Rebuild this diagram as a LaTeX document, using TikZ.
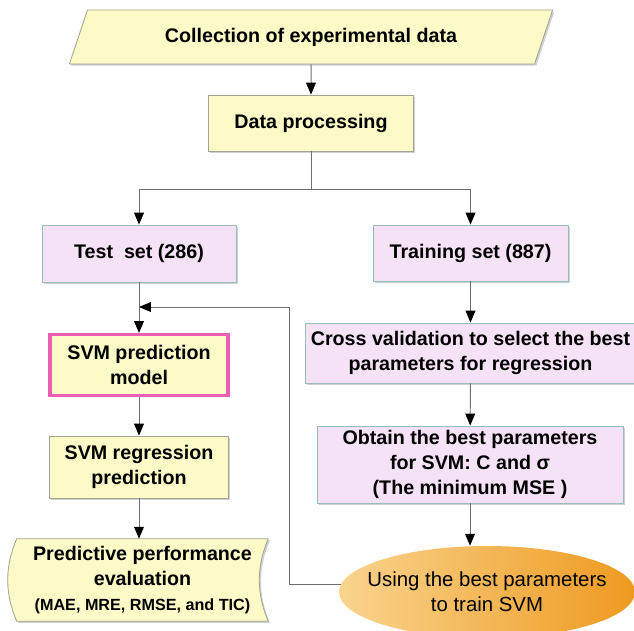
\documentclass[tikz,border=0pt]{standalone}
\usepackage{fontspec}
\setmainfont{Liberation Sans}
\usetikzlibrary{positioning,shapes.geometric,arrows.meta,shadows,backgrounds}
\definecolor{BoxYellow}{HTML}{FCFAC6}
\definecolor{BoxPink}{HTML}{F6E2F6}
\definecolor{EdgeGray}{HTML}{A3A391}
\definecolor{EdgeTeal}{HTML}{97BFBA}
\definecolor{ModelRim}{HTML}{EC5DB4}
\definecolor{LineGray}{HTML}{6E6E6E}
\definecolor{FitLight}{HTML}{F9D48E}
\definecolor{FitDark}{HTML}{EE9A20}
\tikzset{
  boxfont/.style={font=\fontsize{14}{17.5}\selectfont\bfseries},
  softshadow/.style={drop shadow={shadow xshift=1.2pt,shadow yshift=-1.2pt,
                                  fill=black,opacity=0.18}},
  yellowbox/.style={draw=EdgeGray,fill=BoxYellow,line width=0.6pt,softshadow,
                    boxfont,align=center,inner sep=2pt},
  pinkbox/.style={draw=EdgeTeal,fill=BoxPink,line width=0.6pt,softshadow,
                  boxfont,align=center,inner sep=2pt},
  link/.style={LineGray,line width=0.7pt},
  arr/.style={link,-{Triangle[length=8.5pt,width=7pt,color=black]}},
}

\begin{document}
\begin{tikzpicture}[x=1cm,y=1cm]
        \useasboundingbox (0,0) rectangle (15.85,-15.775);
        \node[yellowbox,trapezium,trapezium left angle=63.4,
              trapezium right angle=116.6,trapezium stretches=true,
              minimum width=12.1cm,minimum height=1.35cm]
              (collect) at (7.775,-0.925) {Collection of experimental data};
        \node[yellowbox,minimum width=5.125cm,minimum height=1.4cm]
              (proc) at (7.775,-3.075) {Data processing};
        \node[pinkbox,minimum width=4.85cm,minimum height=1.425cm]
              (testset) at (3.475,-6.3375) {Test~ set (286)};
        \node[pinkbox,minimum width=4.875cm,minimum height=1.4cm]
              (trainset) at (11.7625,-6.325) {Training set (887)};
        \node[yellowbox,draw=ModelRim,line width=2.2pt,
              minimum width=4.45cm,minimum height=1.525cm]
              (model) at (3.475,-9.125) {SVM prediction\\model};
        \node[yellowbox,minimum width=4.475cm,minimum height=1.55cm]
              (regr) at (3.475,-11.675) {SVM regression\\prediction};
        \node[boxfont,align=center,minimum width=6.275cm,minimum height=2.05cm]
              (evalp) at (3.5625,-14.5) {Predictive performance\\evaluation\\
              {\fontsize{11.5}{14}\selectfont (MAE, MRE, RMSE, and TIC)}};
        \begin{scope}[on background layer]
          \draw[draw=EdgeGray,fill=BoxYellow,line width=0.6pt,softshadow]
                (evalp.north west) -- (evalp.north east)
                .. controls +(-0.3,-0.7) and +(-0.3,0.7) .. (evalp.south east)
                -- (evalp.south west)
                .. controls +(-0.3,0.7) and +(-0.3,-0.7) .. (evalp.north west)
                -- cycle;
        \end{scope}
        \node[pinkbox,minimum width=8.275cm,minimum height=1.5cm]
              (cv) at (11.7625,-8.825)
              {Cross validation to select the best\\parameters for regression};
        \node[pinkbox,minimum width=7.65cm,minimum height=1.925cm]
              (best) at (11.75,-11.6125)
              {Obtain the best parameters\\for SVM: C and σ\\(The minimum MSE )};
        \node[ellipse,left color=FitLight,right color=FitDark,
              font=\fontsize{14.5}{17.5}\selectfont,align=center,
              inner xsep=-0.4cm,inner ysep=0pt,
              minimum width=7.4cm,minimum height=2.3cm]
              (fit) at (12.175,-14.8) {Using the best parameters\\to train SVM};
        \coordinate (split) at (7.775,-4.725);
        \coordinate (join) at (3.475,-7.675);
        \coordinate (loop) at (7.225,-7.675);
        \draw[arr] (collect) -- (proc);
        \draw[link] (proc) -- (split);
        \draw[arr] (split) -| (testset);
        \draw[arr] (split) -| (trainset);
        \draw[arr] (testset) -- (model);
        \draw[arr] (model) -- (regr);
        \draw[arr] (regr.south) -- (regr.south |- evalp.north);
        \draw[arr] (trainset) -- (cv);
        \draw[arr] (cv) -- (best);
        \draw[arr] (best) -- (best |- fit.north);
        \draw[arr] (fit.177) -| (loop) -- (join);
      \end{tikzpicture}
\end{document}
